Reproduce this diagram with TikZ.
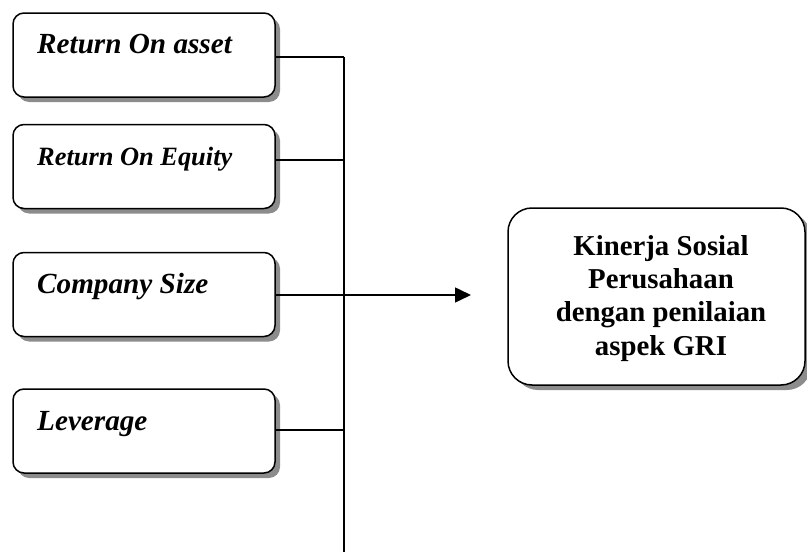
\documentclass[tikz,border=0pt]{standalone}
\usepackage{fontspec}
\setmainfont{Liberation Serif}
\usetikzlibrary{arrows.meta,shadows}
\begin{document}
\begin{tikzpicture}[x=1pt,y=-1pt,
  inbox/.style={draw=black,line width=1.5pt,fill=white,rounded corners=11pt,
     minimum width=262pt,minimum height=84pt,inner sep=0pt,
     drop shadow={shadow xshift=5pt,shadow yshift=-5pt,fill=black!45,opacity=1}},
  outbox/.style={draw=black,line width=1.5pt,fill=white,rounded corners=24pt,
     minimum width=297pt,minimum height=177pt,inner sep=0pt,
     drop shadow={shadow xshift=6pt,shadow yshift=-5pt,fill=black!45,opacity=1}},
  lbl/.style={anchor=base west,inner sep=0pt},
  conn/.style={line width=1.6pt}]
\useasboundingbox (0,0) rectangle (807,554);
\node[inbox] (b1) at (144,55) {};
\node[inbox] (b2) at (144,166.5) {};
\node[inbox] (b3) at (144,294.5) {};
\node[inbox] (b4) at (144,431) {};
\node[lbl,font=\fontsize{29.2}{33}\selectfont\bfseries\itshape] (t1) at (37,53) {Return On asset};
\node[lbl,font=\fontsize{26.4}{30}\selectfont\bfseries\itshape] (t2) at (37,165) {Return On Equity};
\node[lbl,font=\fontsize{29.2}{33}\selectfont\bfseries\itshape] (t3) at (37,293) {Company Size};
\node[lbl,font=\fontsize{29.2}{33}\selectfont\bfseries\itshape] (t4) at (37,430) {Leverage};
\node[outbox] (out) at (656.5,296.5) {};
\node[align=center,inner sep=0pt,anchor=base,font=\fontsize{28.8}{33.3}\selectfont\bfseries] (ot) at (661,355)
  {Kinerja Sosial\\Perusahaan\\dengan penilaian\\aspek GRI};
\coordinate (v1) at (344,57);
\coordinate (v2) at (344,160);
\coordinate (v3) at (344,295);
\coordinate (v4) at (344,430);
\coordinate (vend) at (344,552);
\coordinate (tip) at (471,295);
\draw[conn] (v1 -| b1.east) -- (v1);
\draw[conn] (v2 -| b2.east) -- (v2);
\draw[conn] (v4 -| b4.east) -- (v4);
\draw[conn] (v1) -- (vend);
\draw[conn,-{Triangle[length=16pt,width=15pt]}] (v3 -| b3.east) -- (tip);
\end{tikzpicture}
\end{document}
